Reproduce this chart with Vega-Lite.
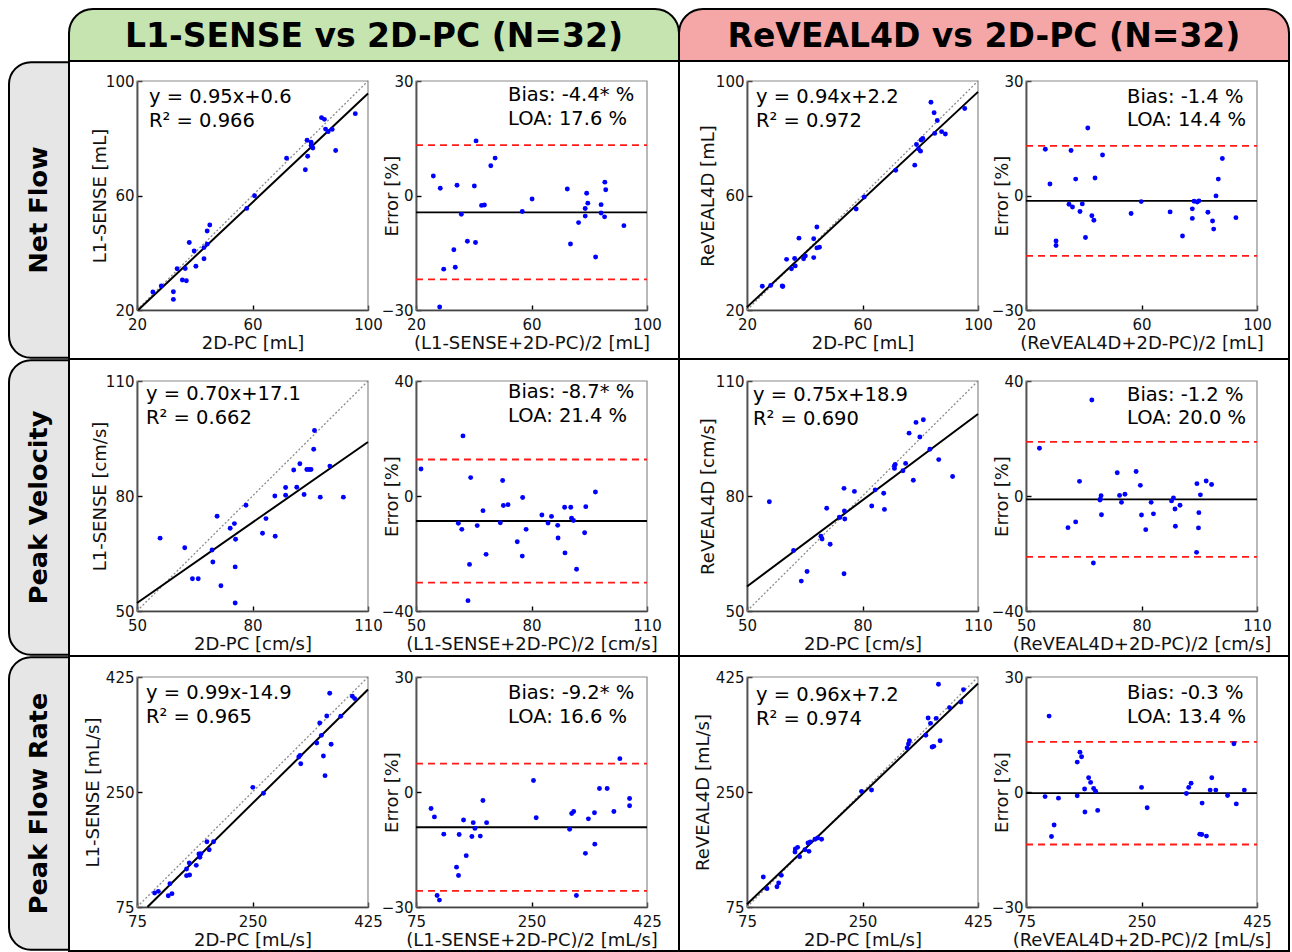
{
"$schema": "https://vega.github.io/schema/vega-lite/v6.json",
"padding": {"left": 8, "top": 8, "right": 3, "bottom": 1},
"background": "white",
"config": {
 "font": "DejaVu Sans",
 "view": {"stroke": null},
 "axis": {"grid": false, "labelFontSize": 15, "labelColor": "#111111", "titleFontSize": 18, "titleFontWeight": "normal", "titleColor": "#111111", "domainColor": "black", "domainWidth": 1.6, "tickColor": "black", "tickWidth": 1.4, "tickSize": -5, "labelPadding": 8, "labelFlush": false, "labelOverlap": false, "zindex": 1, "titlePadding": 2},
 "axisX": {"labelPadding": 12},
 "axisY": {"titleX": -37, "titleBaseline": "middle"}
},
"datasets": {
 "p1": [{"x":25.5,"y":26.3},{"x":28.4,"y":28.4},{"x":32.6,"y":26.4},{"x":32.6,"y":23.7},{"x":33.9,"y":34.4},{"x":35.7,"y":30.5},{"x":37.1,"y":30.2},{"x":36.7,"y":34.5},{"x":38.1,"y":43.6},{"x":39.8,"y":40.6},{"x":40.4,"y":35.3},{"x":43.2,"y":41.8},{"x":43.2,"y":37.9},{"x":44.3,"y":43.0},{"x":44.3,"y":47.6},{"x":45.2,"y":49.7},{"x":58.0,"y":55.5},{"x":60.7,"y":59.9},{"x":71.8,"y":73.0},{"x":78.3,"y":69.0},{"x":79.1,"y":73.7},{"x":78.9,"y":79.3},{"x":80.3,"y":78.6},{"x":80.3,"y":77.5},{"x":80.9,"y":76.6},{"x":83.9,"y":87.2},{"x":84.9,"y":86.6},{"x":85.3,"y":83.2},{"x":86.2,"y":82.3},{"x":87.6,"y":83.1},{"x":88.8,"y":75.7},{"x":95.6,"y":88.6}],
 "p2": [{"x":26.0,"y":5.1},{"x":28.4,"y":1.9},{"x":29.6,"y":-19.3},{"x":28.2,"y":-29.2},{"x":33.1,"y":-14.2},{"x":33.6,"y":-18.8},{"x":34.2,"y":2.7},{"x":35.7,"y":-4.9},{"x":37.8,"y":-12.0},{"x":40.2,"y":2.5},{"x":40.6,"y":-12.3},{"x":40.8,"y":14.3},{"x":42.7,"y":-2.6},{"x":43.7,"y":-2.5},{"x":45.9,"y":7.8},{"x":47.4,"y":9.8},{"x":56.8,"y":-4.2},{"x":60.2,"y":-0.9},{"x":72.4,"y":1.7},{"x":73.5,"y":-12.7},{"x":76.3,"y":-7.1},{"x":78.6,"y":-5.4},{"x":78.6,"y":-3.4},{"x":79.1,"y":0.6},{"x":79.5,"y":-2.0},{"x":82.2,"y":-16.1},{"x":84.1,"y":-2.4},{"x":84.1,"y":-4.6},{"x":85.3,"y":-5.6},{"x":85.4,"y":3.5},{"x":85.7,"y":1.5},{"x":92.0,"y":-7.9}],
 "p3": [{"x":25.3,"y":28.3},{"x":28.2,"y":28.6},{"x":32.2,"y":28.4},{"x":32.4,"y":28.2},{"x":33.7,"y":37.7},{"x":35.4,"y":34.4},{"x":36.7,"y":35.4},{"x":36.5,"y":38.0},{"x":38.0,"y":45.1},{"x":39.6,"y":37.9},{"x":40.2,"y":38.9},{"x":43.1,"y":38.3},{"x":43.1,"y":44.9},{"x":44.2,"y":41.7},{"x":45.1,"y":41.9},{"x":44.2,"y":49.0},{"x":57.8,"y":55.3},{"x":60.6,"y":59.5},{"x":71.5,"y":68.8},{"x":78.1,"y":70.6},{"x":78.7,"y":77.8},{"x":79.4,"y":76.3},{"x":80.1,"y":75.5},{"x":80.3,"y":79.4},{"x":80.9,"y":79.9},{"x":83.7,"y":92.6},{"x":84.8,"y":88.9},{"x":85.9,"y":86.2},{"x":85.0,"y":81.7},{"x":87.4,"y":82.3},{"x":88.7,"y":81.5},{"x":95.4,"y":90.4}],
 "p4": [{"x":26.7,"y":12.1},{"x":28.3,"y":3.0},{"x":30.4,"y":-11.9},{"x":30.4,"y":-13.1},{"x":34.9,"y":-2.3},{"x":35.6,"y":11.8},{"x":36.1,"y":-3.0},{"x":37.2,"y":4.3},{"x":38.7,"y":-4.2},{"x":39.5,"y":-2.2},{"x":40.6,"y":-11.0},{"x":41.4,"y":17.7},{"x":42.8,"y":-5.3},{"x":43.5,"y":-6.5},{"x":43.9,"y":4.6},{"x":46.5,"y":10.6},{"x":56.4,"y":-4.7},{"x":59.9,"y":-1.6},{"x":69.9,"y":-4.3},{"x":74.2,"y":-10.6},{"x":77.6,"y":-3.5},{"x":77.6,"y":-6.0},{"x":78.2,"y":-1.5},{"x":79.3,"y":-1.7},{"x":79.9,"y":-1.4},{"x":83.0,"y":-4.4},{"x":84.6,"y":-6.7},{"x":85.0,"y":-8.8},{"x":85.8,"y":-0.1},{"x":86.6,"y":4.3},{"x":88.0,"y":9.7},{"x":92.7,"y":-5.8}],
 "p5": [{"x":56.0,"y":69.0},{"x":62.4,"y":66.5},{"x":64.4,"y":58.4},{"x":65.9,"y":58.4},{"x":69.5,"y":65.9},{"x":69.7,"y":62.8},{"x":70.8,"y":74.7},{"x":71.8,"y":56.6},{"x":74.2,"y":71.6},{"x":75.3,"y":72.8},{"x":75.6,"y":68.7},{"x":75.5,"y":61.5},{"x":75.5,"y":52.1},{"x":78.3,"y":77.6},{"x":82.6,"y":70.3},{"x":83.5,"y":74.1},{"x":85.8,"y":80.0},{"x":85.9,"y":69.5},{"x":88.6,"y":82.2},{"x":88.6,"y":80.2},{"x":90.7,"y":86.8},{"x":91.5,"y":82.3},{"x":92.3,"y":88.4},{"x":93.4,"y":80.4},{"x":94.1,"y":86.9},{"x":94.7,"y":86.9},{"x":95.2,"y":86.9},{"x":95.9,"y":92.2},{"x":96.1,"y":97.1},{"x":97.6,"y":79.7},{"x":100.1,"y":87.8},{"x":103.6,"y":79.7}],
 "p6": [{"x":51.3,"y":9.4},{"x":61.0,"y":-9.5},{"x":61.9,"y":-11.6},{"x":62.2,"y":20.9},{"x":63.9,"y":-23.8},{"x":64.2,"y":6.4},{"x":63.5,"y":-36.4},{"x":65.9,"y":-10.3},{"x":67.4,"y":-5.1},{"x":68.2,"y":-20.3},{"x":71.9,"y":-9.3},{"x":72.5,"y":5.4},{"x":72.7,"y":-3.3},{"x":73.9,"y":-3.0},{"x":76.3,"y":-15.9},{"x":77.6,"y":-20.9},{"x":77.7,"y":-0.5},{"x":78.6,"y":-11.6},{"x":82.7,"y":-6.6},{"x":84.3,"y":-9.4},{"x":85.2,"y":-7.1},{"x":86.8,"y":-10.2},{"x":86.9,"y":-14.6},{"x":88.6,"y":-3.9},{"x":88.7,"y":-19.8},{"x":90.2,"y":-3.9},{"x":90.4,"y":-7.7},{"x":90.9,"y":-8.5},{"x":91.7,"y":-25.5},{"x":93.8,"y":-12.8},{"x":94.1,"y":-3.7},{"x":96.6,"y":1.4}],
 "p7": [{"x":55.8,"y":78.5},{"x":62.1,"y":65.8},{"x":64.1,"y":57.8},{"x":65.6,"y":60.3},{"x":69.2,"y":69.5},{"x":69.5,"y":68.8},{"x":70.7,"y":76.8},{"x":71.6,"y":67.4},{"x":74.0,"y":74.5},{"x":74.1,"y":74.4},{"x":75.2,"y":82.0},{"x":75.3,"y":76.1},{"x":75.4,"y":74.0},{"x":75.2,"y":59.7},{"x":77.9,"y":81.2},{"x":82.4,"y":77.4},{"x":83.3,"y":81.6},{"x":85.5,"y":80.7},{"x":85.7,"y":76.5},{"x":88.3,"y":87.9},{"x":88.3,"y":87.2},{"x":88.5,"y":88.2},{"x":90.5,"y":86.6},{"x":91.2,"y":88.5},{"x":92.1,"y":96.4},{"x":93.2,"y":84.1},{"x":93.9,"y":99.2},{"x":94.9,"y":95.4},{"x":95.8,"y":99.9},{"x":97.5,"y":92.2},{"x":99.8,"y":89.5},{"x":103.4,"y":85.1}],
 "p8": [{"x":53.5,"y":16.6},{"x":60.9,"y":-11.0},{"x":62.9,"y":-9.0},{"x":63.9,"y":5.1},{"x":67.1,"y":33.4},{"x":67.5,"y":-23.3},{"x":69.2,"y":-1.4},{"x":69.5,"y":0.1},{"x":69.3,"y":-1.1},{"x":69.6,"y":-6.5},{"x":73.7,"y":8.1},{"x":74.3,"y":0.2},{"x":74.8,"y":-2.2},{"x":75.7,"y":0.6},{"x":78.6,"y":8.5},{"x":79.7,"y":3.7},{"x":80.0,"y":-6.6},{"x":81.1,"y":-11.7},{"x":82.5,"y":-2.2},{"x":83.1,"y":-6.2},{"x":87.8,"y":-1.7},{"x":88.3,"y":-0.7},{"x":88.7,"y":-4.5},{"x":88.8,"y":-10.5},{"x":90.0,"y":-3.2},{"x":94.3,"y":-19.6},{"x":94.4,"y":4.3},{"x":94.9,"y":-5.8},{"x":94.8,"y":-11.1},{"x":95.3,"y":0.4},{"x":96.8,"y":5.2},{"x":98.2,"y":4.0}],
 "p9": [{"x":101.7,"y":96.3},{"x":107.3,"y":98.8},{"x":122.4,"y":92.2},{"x":128.0,"y":95.3},{"x":124.9,"y":110.5},{"x":150.1,"y":122.7},{"x":154.7,"y":123.7},{"x":150.1,"y":132.8},{"x":154.2,"y":141.9},{"x":164.8,"y":138.4},{"x":168.8,"y":155.6},{"x":171.8,"y":156.1},{"x":170.3,"y":150.6},{"x":180.9,"y":174.4},{"x":184.4,"y":162.2},{"x":191.0,"y":174.4},{"x":250.5,"y":257.1},{"x":266.6,"y":248.0},{"x":320.1,"y":303.3},{"x":322.1,"y":305.8},{"x":323.1,"y":293.1},{"x":347.3,"y":324.6},{"x":351.8,"y":355.0},{"x":354.4,"y":336.2},{"x":357.4,"y":304.8},{"x":359.9,"y":274.9},{"x":362.5,"y":365.7},{"x":367.0,"y":400.2},{"x":369.1,"y":322.6},{"x":383.7,"y":365.2},{"x":401.3,"y":395.6},{"x":404.9,"y":392.1}],
 "p10": [{"x":97.8,"y":-4.3},{"x":102.9,"y":-6.5},{"x":107.0,"y":-27.0},{"x":110.5,"y":-28.2},{"x":117.1,"y":-11.0},{"x":136.4,"y":-19.6},{"x":139.4,"y":-21.8},{"x":140.4,"y":-11.1},{"x":147.0,"y":-7.3},{"x":151.1,"y":-16.6},{"x":159.7,"y":-11.6},{"x":161.7,"y":-8.0},{"x":164.3,"y":-9.5},{"x":172.4,"y":-11.5},{"x":176.4,"y":-2.2},{"x":182.0,"y":-8.0},{"x":253.0,"y":3.0},{"x":257.1,"y":-6.7},{"x":307.8,"y":-9.7},{"x":310.9,"y":-5.6},{"x":313.9,"y":-5.1},{"x":318.0,"y":-27.0},{"x":331.7,"y":-16.0},{"x":336.2,"y":-7.0},{"x":345.4,"y":-5.4},{"x":345.9,"y":-13.6},{"x":353.0,"y":0.9},{"x":364.6,"y":0.9},{"x":374.8,"y":-5.1},{"x":383.9,"y":8.7},{"x":398.6,"y":-1.7},{"x":398.6,"y":-3.6}],
 "p11": [{"x":99.7,"y":120.6},{"x":105.3,"y":102.9},{"x":120.4,"y":105.9},{"x":123.0,"y":111.5},{"x":127.0,"y":123.2},{"x":147.7,"y":158.7},{"x":148.2,"y":163.2},{"x":151.7,"y":165.8},{"x":154.7,"y":151.6},{"x":162.8,"y":162.2},{"x":167.4,"y":172.4},{"x":168.9,"y":159.7},{"x":170.9,"y":173.9},{"x":178.0,"y":178.0},{"x":182.0,"y":180.0},{"x":188.0,"y":178.0},{"x":248.5,"y":251.0},{"x":263.7,"y":253.0},{"x":317.6,"y":317.0},{"x":319.6,"y":323.1},{"x":321.1,"y":328.1},{"x":345.9,"y":336.3},{"x":349.4,"y":362.6},{"x":353.0,"y":354.5},{"x":355.5,"y":318.5},{"x":358.0,"y":319.5},{"x":361.6,"y":362.1},{"x":365.1,"y":413.9},{"x":367.6,"y":328.1},{"x":381.8,"y":378.4},{"x":399.0,"y":387.0},{"x":403.0,"y":405.8}],
 "p12": [{"x":103.9,"y":-1.2},{"x":110.0,"y":19.8},{"x":113.6,"y":-11.6},{"x":117.6,"y":-8.6},{"x":124.2,"y":-1.6},{"x":152.6,"y":7.8},{"x":152.6,"y":-1.0},{"x":156.7,"y":10.4},{"x":159.2,"y":9.2},{"x":163.8,"y":0.8},{"x":164.3,"y":-5.2},{"x":169.9,"y":3.7},{"x":172.9,"y":2.5},{"x":177.5,"y":0.9},{"x":180.5,"y":0.2},{"x":183.6,"y":-4.8},{"x":250.0,"y":1.2},{"x":258.6,"y":-4.1},{"x":318.0,"y":-0.4},{"x":321.5,"y":1.2},{"x":325.1,"y":2.3},{"x":338.3,"y":-11.0},{"x":341.3,"y":-11.1},{"x":341.8,"y":-2.9},{"x":348.4,"y":-11.5},{"x":354.0,"y":0.5},{"x":356.5,"y":3.7},{"x":362.6,"y":0.5},{"x":380.4,"y":-0.9},{"x":390.0,"y":12.6},{"x":393.6,"y":-3.1},{"x":405.8,"y":0.5}]
},
"columns": 3,
"spacing": 0,
"align": "each",
"bounds": "flush",
"concat": [
 {"width": 60, "height": 52, "data": {"values": [{}]}, "mark": {"type": "text", "text": ""}},
 {"width": 610, "height": 52, "data": {"values": [{"label": "L1-SENSE vs 2D-PC (N=32)"}]},
  "layer": [
   {"mark": {"type": "rect", "fill": "#c5e4b0", "stroke": "black", "strokeWidth": 2, "cornerRadiusTopLeft": 24, "cornerRadiusTopRight": 24},
    "encoding": {"x": {"datum": 0, "type": "quantitative", "scale": {"domain": [0, 1], "nice": false}, "axis": null}, "x2": {"datum": 1}, "y": {"datum": 0, "type": "quantitative", "scale": {"domain": [0, 1], "nice": false}, "axis": null}, "y2": {"datum": 1}}},
   {"mark": {"type": "text", "fontSize": 33, "fontWeight": "bold", "color": "black", "dy": 2},
    "encoding": {"x": {"datum": 0.5, "type": "quantitative", "scale": {"domain": [0, 1], "nice": false}, "axis": null}, "y": {"datum": 0.5, "type": "quantitative", "scale": {"domain": [0, 1], "nice": false}, "axis": null}, "text": {"field": "label"}}}
  ]},
 {"width": 610, "height": 52, "data": {"values": [{"label": "ReVEAL4D vs 2D-PC (N=32)"}]},
  "layer": [
   {"mark": {"type": "rect", "fill": "#f4a7a6", "stroke": "black", "strokeWidth": 2, "cornerRadiusTopLeft": 24, "cornerRadiusTopRight": 24},
    "encoding": {"x": {"datum": 0, "type": "quantitative", "scale": {"domain": [0, 1], "nice": false}, "axis": null}, "x2": {"datum": 1}, "y": {"datum": 0, "type": "quantitative", "scale": {"domain": [0, 1], "nice": false}, "axis": null}, "y2": {"datum": 1}}},
   {"mark": {"type": "text", "fontSize": 33, "fontWeight": "bold", "color": "black", "dy": 2},
    "encoding": {"x": {"datum": 0.5, "type": "quantitative", "scale": {"domain": [0, 1], "nice": false}, "axis": null}, "y": {"datum": 0.5, "type": "quantitative", "scale": {"domain": [0, 1], "nice": false}, "axis": null}, "text": {"field": "label"}}}
  ]},

 {"width": 60, "height": 298, "data": {"values": [{"label": "Net Flow"}]},
  "layer": [
   {"mark": {"type": "rect", "fill": "#e6e6e6", "stroke": "black", "strokeWidth": 2, "cornerRadiusTopLeft": 22, "cornerRadiusBottomLeft": 22},
    "encoding": {"x": {"datum": 0, "type": "quantitative", "scale": {"domain": [0, 1], "nice": false}, "axis": null}, "x2": {"datum": 1}, "y": {"datum": 0.004, "type": "quantitative", "scale": {"domain": [0, 1], "nice": false}, "axis": null}, "y2": {"datum": 0.996}}},
   {"mark": {"type": "text", "fontSize": 25.5, "fontWeight": "bold", "color": "black", "angle": 270},
    "encoding": {"x": {"datum": 0.5, "type": "quantitative", "scale": {"domain": [0, 1], "nice": false}, "axis": null}, "y": {"datum": 0.5, "type": "quantitative", "scale": {"domain": [0, 1], "nice": false}, "axis": null}, "text": {"field": "label"}}}
  ]},
 {"width": 610, "height": 298, "view": {"stroke": "black", "strokeWidth": 2},
  "resolve": {"scale": {"x": "independent", "y": "independent"}},
  "layer": [
   {"layer": [
    {"data": {"values": [{}]}, "mark": {"type": "rect", "fillOpacity": 0, "stroke": "#8a8a8a", "strokeWidth": 1.2},
     "encoding": {"x": {"datum": 20, "type": "quantitative", "scale": {"domain": [20, 100], "range": [68, 299], "nice": false, "zero": false}}, "x2": {"datum": 100}, "y": {"datum": 20, "type": "quantitative", "scale": {"domain": [20, 100], "range": [249, 20], "nice": false, "zero": false}}, "y2": {"datum": 100}}},
    {"data": {"values": [{"x1": 20, "y1": 20, "x2": 100, "y2": 100}]}, "mark": {"type": "rule", "color": "#8c8c8c", "strokeDash": [2, 2], "strokeWidth": 1.3},
     "encoding": {"x": {"field": "x1", "type": "quantitative", "scale": {"domain": [20, 100], "range": [68, 299], "nice": false, "zero": false}}, "y": {"field": "y1", "type": "quantitative", "scale": {"domain": [20, 100], "range": [249, 20], "nice": false, "zero": false}}, "x2": {"field": "x2"}, "y2": {"field": "y2"}}},
    {"data": {"values": [{"x1": 20.42, "y1": 20, "x2": 100, "y2": 95.6}]}, "mark": {"type": "rule", "color": "black", "strokeWidth": 2},
     "encoding": {"x": {"field": "x1", "type": "quantitative", "scale": {"domain": [20, 100], "range": [68, 299], "nice": false, "zero": false}}, "y": {"field": "y1", "type": "quantitative", "scale": {"domain": [20, 100], "range": [249, 20], "nice": false, "zero": false}}, "x2": {"field": "x2"}, "y2": {"field": "y2"}}},
    {"data": {"name": "p1"}, "mark": {"type": "circle", "size": 24, "color": "#0000ff", "opacity": 1},
     "encoding": {"x": {"field": "x", "type": "quantitative", "scale": {"domain": [20, 100], "range": [68, 299], "nice": false, "zero": false}, "axis": {"orient": "bottom", "offset": -49, "values": [20, 60, 100], "title": "2D-PC [mL]"}}, "y": {"field": "y", "type": "quantitative", "scale": {"domain": [20, 100], "range": [249, 20], "nice": false, "zero": false}, "axis": {"orient": "left", "offset": -68, "values": [20, 60, 100], "title": "L1-SENSE [mL]"}}}},
    {"data": {"values": [{}]}, "mark": {"type": "text", "align": "left", "baseline": "top", "fontSize": 19.5, "lineHeight": 23.5, "dx": 12, "dy": 7, "color": "black"},
     "encoding": {"x": {"datum": 20, "type": "quantitative", "scale": {"domain": [20, 100], "range": [68, 299], "nice": false, "zero": false}}, "y": {"datum": 100, "type": "quantitative", "scale": {"domain": [20, 100], "range": [249, 20], "nice": false, "zero": false}}, "text": {"value": ["y = 0.95x+0.6", "R² = 0.966"]}}}
   ]},
   {"layer": [
    {"data": {"values": [{}]}, "mark": {"type": "rect", "fillOpacity": 0, "stroke": "#8a8a8a", "strokeWidth": 1.2},
     "encoding": {"x": {"datum": 20, "type": "quantitative", "scale": {"domain": [20, 100], "range": [347, 578], "nice": false, "zero": false}}, "x2": {"datum": 100}, "y": {"datum": -30, "type": "quantitative", "scale": {"domain": [-30, 30], "range": [249, 20], "nice": false, "zero": false}}, "y2": {"datum": 30}}},
    {"data": {"values": [{"v": 13.2}, {"v": -22.0}]}, "mark": {"type": "rule", "color": "#ff1a1a", "strokeDash": [7, 5], "strokeWidth": 1.8},
     "encoding": {"x": {"datum": 20, "type": "quantitative", "scale": {"domain": [20, 100], "range": [347, 578], "nice": false, "zero": false}}, "x2": {"datum": 100}, "y": {"field": "v", "type": "quantitative", "scale": {"domain": [-30, 30], "range": [249, 20], "nice": false, "zero": false}}}},
    {"data": {"values": [{"v": -4.4}]}, "mark": {"type": "rule", "color": "black", "strokeWidth": 1.8},
     "encoding": {"x": {"datum": 20, "type": "quantitative", "scale": {"domain": [20, 100], "range": [347, 578], "nice": false, "zero": false}}, "x2": {"datum": 100}, "y": {"field": "v", "type": "quantitative", "scale": {"domain": [-30, 30], "range": [249, 20], "nice": false, "zero": false}}}},
    {"data": {"name": "p2"}, "mark": {"type": "circle", "size": 24, "color": "#0000ff", "opacity": 1},
     "encoding": {"x": {"field": "x", "type": "quantitative", "scale": {"domain": [20, 100], "range": [347, 578], "nice": false, "zero": false}, "axis": {"orient": "bottom", "offset": -49, "values": [20, 60, 100], "title": "(L1-SENSE+2D-PC)/2 [mL]"}}, "y": {"field": "y", "type": "quantitative", "scale": {"domain": [-30, 30], "range": [249, 20], "nice": false, "zero": false}, "axis": {"orient": "left", "offset": -347, "values": [-30, 0, 30], "title": "Error [%]", "titleX": -23.5}}}},
    {"data": {"values": [{}]}, "mark": {"type": "text", "align": "left", "baseline": "top", "fontSize": 19.5, "lineHeight": 24, "dx": 92, "dy": 5, "color": "black"},
     "encoding": {"x": {"datum": 20, "type": "quantitative", "scale": {"domain": [20, 100], "range": [347, 578], "nice": false, "zero": false}}, "y": {"datum": 30, "type": "quantitative", "scale": {"domain": [-30, 30], "range": [249, 20], "nice": false, "zero": false}}, "text": {"value": ["Bias: -4.4* %", "LOA: 17.6 %"]}}}
   ]}
  ]},
 {"width": 610, "height": 298, "view": {"stroke": "black", "strokeWidth": 2},
  "resolve": {"scale": {"x": "independent", "y": "independent"}},
  "layer": [
   {"layer": [
    {"data": {"values": [{}]}, "mark": {"type": "rect", "fillOpacity": 0, "stroke": "#8a8a8a", "strokeWidth": 1.2},
     "encoding": {"x": {"datum": 20, "type": "quantitative", "scale": {"domain": [20, 100], "range": [68, 299], "nice": false, "zero": false}}, "x2": {"datum": 100}, "y": {"datum": 20, "type": "quantitative", "scale": {"domain": [20, 100], "range": [249, 20], "nice": false, "zero": false}}, "y2": {"datum": 100}}},
    {"data": {"values": [{"x1": 20, "y1": 20, "x2": 100, "y2": 100}]}, "mark": {"type": "rule", "color": "#8c8c8c", "strokeDash": [2, 2], "strokeWidth": 1.3},
     "encoding": {"x": {"field": "x1", "type": "quantitative", "scale": {"domain": [20, 100], "range": [68, 299], "nice": false, "zero": false}}, "y": {"field": "y1", "type": "quantitative", "scale": {"domain": [20, 100], "range": [249, 20], "nice": false, "zero": false}}, "x2": {"field": "x2"}, "y2": {"field": "y2"}}},
    {"data": {"values": [{"x1": 20, "y1": 21.0, "x2": 100, "y2": 96.2}]}, "mark": {"type": "rule", "color": "black", "strokeWidth": 2},
     "encoding": {"x": {"field": "x1", "type": "quantitative", "scale": {"domain": [20, 100], "range": [68, 299], "nice": false, "zero": false}}, "y": {"field": "y1", "type": "quantitative", "scale": {"domain": [20, 100], "range": [249, 20], "nice": false, "zero": false}}, "x2": {"field": "x2"}, "y2": {"field": "y2"}}},
    {"data": {"name": "p3"}, "mark": {"type": "circle", "size": 24, "color": "#0000ff", "opacity": 1},
     "encoding": {"x": {"field": "x", "type": "quantitative", "scale": {"domain": [20, 100], "range": [68, 299], "nice": false, "zero": false}, "axis": {"orient": "bottom", "offset": -49, "values": [20, 60, 100], "title": "2D-PC [mL]"}}, "y": {"field": "y", "type": "quantitative", "scale": {"domain": [20, 100], "range": [249, 20], "nice": false, "zero": false}, "axis": {"orient": "left", "offset": -68, "values": [20, 60, 100], "title": "ReVEAL4D [mL]", "titleX": -39}}}},
    {"data": {"values": [{}]}, "mark": {"type": "text", "align": "left", "baseline": "top", "fontSize": 19.5, "lineHeight": 23.5, "dx": 9, "dy": 7, "color": "black"},
     "encoding": {"x": {"datum": 20, "type": "quantitative", "scale": {"domain": [20, 100], "range": [68, 299], "nice": false, "zero": false}}, "y": {"datum": 100, "type": "quantitative", "scale": {"domain": [20, 100], "range": [249, 20], "nice": false, "zero": false}}, "text": {"value": ["y = 0.94x+2.2", "R² = 0.972"]}}}
   ]},
   {"layer": [
    {"data": {"values": [{}]}, "mark": {"type": "rect", "fillOpacity": 0, "stroke": "#8a8a8a", "strokeWidth": 1.2},
     "encoding": {"x": {"datum": 20, "type": "quantitative", "scale": {"domain": [20, 100], "range": [347, 578], "nice": false, "zero": false}}, "x2": {"datum": 100}, "y": {"datum": -30, "type": "quantitative", "scale": {"domain": [-30, 30], "range": [249, 20], "nice": false, "zero": false}}, "y2": {"datum": 30}}},
    {"data": {"values": [{"v": 13.0}, {"v": -15.8}]}, "mark": {"type": "rule", "color": "#ff1a1a", "strokeDash": [7, 5], "strokeWidth": 1.8},
     "encoding": {"x": {"datum": 20, "type": "quantitative", "scale": {"domain": [20, 100], "range": [347, 578], "nice": false, "zero": false}}, "x2": {"datum": 100}, "y": {"field": "v", "type": "quantitative", "scale": {"domain": [-30, 30], "range": [249, 20], "nice": false, "zero": false}}}},
    {"data": {"values": [{"v": -1.4}]}, "mark": {"type": "rule", "color": "black", "strokeWidth": 1.8},
     "encoding": {"x": {"datum": 20, "type": "quantitative", "scale": {"domain": [20, 100], "range": [347, 578], "nice": false, "zero": false}}, "x2": {"datum": 100}, "y": {"field": "v", "type": "quantitative", "scale": {"domain": [-30, 30], "range": [249, 20], "nice": false, "zero": false}}}},
    {"data": {"name": "p4"}, "mark": {"type": "circle", "size": 24, "color": "#0000ff", "opacity": 1},
     "encoding": {"x": {"field": "x", "type": "quantitative", "scale": {"domain": [20, 100], "range": [347, 578], "nice": false, "zero": false}, "axis": {"orient": "bottom", "offset": -49, "values": [20, 60, 100], "title": "(ReVEAL4D+2D-PC)/2 [mL]"}}, "y": {"field": "y", "type": "quantitative", "scale": {"domain": [-30, 30], "range": [249, 20], "nice": false, "zero": false}, "axis": {"orient": "left", "offset": -347, "values": [-30, 0, 30], "title": "Error [%]", "titleX": -23.5}}}},
    {"data": {"values": [{}]}, "mark": {"type": "text", "align": "left", "baseline": "top", "fontSize": 19.5, "lineHeight": 23, "dx": 101, "dy": 7, "color": "black"},
     "encoding": {"x": {"datum": 20, "type": "quantitative", "scale": {"domain": [20, 100], "range": [347, 578], "nice": false, "zero": false}}, "y": {"datum": 30, "type": "quantitative", "scale": {"domain": [-30, 30], "range": [249, 20], "nice": false, "zero": false}}, "text": {"value": ["Bias: -1.4 %", "LOA: 14.4 %"]}}}
   ]}
  ]},

 {"width": 60, "height": 297, "data": {"values": [{"label": "Peak Velocity"}]},
  "layer": [
   {"mark": {"type": "rect", "fill": "#e6e6e6", "stroke": "black", "strokeWidth": 2, "cornerRadiusTopLeft": 22, "cornerRadiusBottomLeft": 22},
    "encoding": {"x": {"datum": 0, "type": "quantitative", "scale": {"domain": [0, 1], "nice": false}, "axis": null}, "x2": {"datum": 1}, "y": {"datum": 0.004, "type": "quantitative", "scale": {"domain": [0, 1], "nice": false}, "axis": null}, "y2": {"datum": 0.996}}},
   {"mark": {"type": "text", "fontSize": 25.5, "fontWeight": "bold", "color": "black", "angle": 270},
    "encoding": {"x": {"datum": 0.5, "type": "quantitative", "scale": {"domain": [0, 1], "nice": false}, "axis": null}, "y": {"datum": 0.5, "type": "quantitative", "scale": {"domain": [0, 1], "nice": false}, "axis": null}, "text": {"field": "label"}}}
  ]},
 {"width": 610, "height": 297, "view": {"stroke": "black", "strokeWidth": 2},
  "resolve": {"scale": {"x": "independent", "y": "independent"}},
  "layer": [
   {"layer": [
    {"data": {"values": [{}]}, "mark": {"type": "rect", "fillOpacity": 0, "stroke": "#8a8a8a", "strokeWidth": 1.2},
     "encoding": {"x": {"datum": 50, "type": "quantitative", "scale": {"domain": [50, 110], "range": [68, 299], "nice": false, "zero": false}}, "x2": {"datum": 110}, "y": {"datum": 50, "type": "quantitative", "scale": {"domain": [50, 110], "range": [252, 22], "nice": false, "zero": false}}, "y2": {"datum": 110}}},
    {"data": {"values": [{"x1": 50, "y1": 50, "x2": 110, "y2": 110}]}, "mark": {"type": "rule", "color": "#8c8c8c", "strokeDash": [2, 2], "strokeWidth": 1.3},
     "encoding": {"x": {"field": "x1", "type": "quantitative", "scale": {"domain": [50, 110], "range": [68, 299], "nice": false, "zero": false}}, "y": {"field": "y1", "type": "quantitative", "scale": {"domain": [50, 110], "range": [252, 22], "nice": false, "zero": false}}, "x2": {"field": "x2"}, "y2": {"field": "y2"}}},
    {"data": {"values": [{"x1": 50, "y1": 52.1, "x2": 110, "y2": 94.1}]}, "mark": {"type": "rule", "color": "black", "strokeWidth": 2},
     "encoding": {"x": {"field": "x1", "type": "quantitative", "scale": {"domain": [50, 110], "range": [68, 299], "nice": false, "zero": false}}, "y": {"field": "y1", "type": "quantitative", "scale": {"domain": [50, 110], "range": [252, 22], "nice": false, "zero": false}}, "x2": {"field": "x2"}, "y2": {"field": "y2"}}},
    {"data": {"name": "p5"}, "mark": {"type": "circle", "size": 24, "color": "#0000ff", "opacity": 1},
     "encoding": {"x": {"field": "x", "type": "quantitative", "scale": {"domain": [50, 110], "range": [68, 299], "nice": false, "zero": false}, "axis": {"orient": "bottom", "offset": -45, "values": [50, 80, 110], "title": "2D-PC [cm/s]"}}, "y": {"field": "y", "type": "quantitative", "scale": {"domain": [50, 110], "range": [252, 22], "nice": false, "zero": false}, "axis": {"orient": "left", "offset": -68, "values": [50, 80, 110], "title": "L1-SENSE [cm/s]"}}}},
    {"data": {"values": [{}]}, "mark": {"type": "text", "align": "left", "baseline": "top", "fontSize": 19.5, "lineHeight": 23.5, "dx": 9, "dy": 4, "color": "black"},
     "encoding": {"x": {"datum": 50, "type": "quantitative", "scale": {"domain": [50, 110], "range": [68, 299], "nice": false, "zero": false}}, "y": {"datum": 110, "type": "quantitative", "scale": {"domain": [50, 110], "range": [252, 22], "nice": false, "zero": false}}, "text": {"value": ["y = 0.70x+17.1", "R² = 0.662"]}}}
   ]},
   {"layer": [
    {"data": {"values": [{}]}, "mark": {"type": "rect", "fillOpacity": 0, "stroke": "#8a8a8a", "strokeWidth": 1.2},
     "encoding": {"x": {"datum": 50, "type": "quantitative", "scale": {"domain": [50, 110], "range": [347, 578], "nice": false, "zero": false}}, "x2": {"datum": 110}, "y": {"datum": -40, "type": "quantitative", "scale": {"domain": [-40, 40], "range": [252, 22], "nice": false, "zero": false}}, "y2": {"datum": 40}}},
    {"data": {"values": [{"v": 12.7}, {"v": -30.1}]}, "mark": {"type": "rule", "color": "#ff1a1a", "strokeDash": [7, 5], "strokeWidth": 1.8},
     "encoding": {"x": {"datum": 50, "type": "quantitative", "scale": {"domain": [50, 110], "range": [347, 578], "nice": false, "zero": false}}, "x2": {"datum": 110}, "y": {"field": "v", "type": "quantitative", "scale": {"domain": [-40, 40], "range": [252, 22], "nice": false, "zero": false}}}},
    {"data": {"values": [{"v": -8.7}]}, "mark": {"type": "rule", "color": "black", "strokeWidth": 1.8},
     "encoding": {"x": {"datum": 50, "type": "quantitative", "scale": {"domain": [50, 110], "range": [347, 578], "nice": false, "zero": false}}, "x2": {"datum": 110}, "y": {"field": "v", "type": "quantitative", "scale": {"domain": [-40, 40], "range": [252, 22], "nice": false, "zero": false}}}},
    {"data": {"name": "p6"}, "mark": {"type": "circle", "size": 24, "color": "#0000ff", "opacity": 1},
     "encoding": {"x": {"field": "x", "type": "quantitative", "scale": {"domain": [50, 110], "range": [347, 578], "nice": false, "zero": false}, "axis": {"orient": "bottom", "offset": -45, "values": [50, 80, 110], "title": "(L1-SENSE+2D-PC)/2 [cm/s]"}}, "y": {"field": "y", "type": "quantitative", "scale": {"domain": [-40, 40], "range": [252, 22], "nice": false, "zero": false}, "axis": {"orient": "left", "offset": -347, "values": [-40, 0, 40], "title": "Error [%]", "titleX": -23.5}}}},
    {"data": {"values": [{}]}, "mark": {"type": "text", "align": "left", "baseline": "top", "fontSize": 19.5, "lineHeight": 24, "dx": 92, "dy": 2, "color": "black"},
     "encoding": {"x": {"datum": 50, "type": "quantitative", "scale": {"domain": [50, 110], "range": [347, 578], "nice": false, "zero": false}}, "y": {"datum": 40, "type": "quantitative", "scale": {"domain": [-40, 40], "range": [252, 22], "nice": false, "zero": false}}, "text": {"value": ["Bias: -8.7* %", "LOA: 21.4 %"]}}}
   ]}
  ]},
 {"width": 610, "height": 297, "view": {"stroke": "black", "strokeWidth": 2},
  "resolve": {"scale": {"x": "independent", "y": "independent"}},
  "layer": [
   {"layer": [
    {"data": {"values": [{}]}, "mark": {"type": "rect", "fillOpacity": 0, "stroke": "#8a8a8a", "strokeWidth": 1.2},
     "encoding": {"x": {"datum": 50, "type": "quantitative", "scale": {"domain": [50, 110], "range": [68, 299], "nice": false, "zero": false}}, "x2": {"datum": 110}, "y": {"datum": 50, "type": "quantitative", "scale": {"domain": [50, 110], "range": [252, 22], "nice": false, "zero": false}}, "y2": {"datum": 110}}},
    {"data": {"values": [{"x1": 50, "y1": 50, "x2": 110, "y2": 110}]}, "mark": {"type": "rule", "color": "#8c8c8c", "strokeDash": [2, 2], "strokeWidth": 1.3},
     "encoding": {"x": {"field": "x1", "type": "quantitative", "scale": {"domain": [50, 110], "range": [68, 299], "nice": false, "zero": false}}, "y": {"field": "y1", "type": "quantitative", "scale": {"domain": [50, 110], "range": [252, 22], "nice": false, "zero": false}}, "x2": {"field": "x2"}, "y2": {"field": "y2"}}},
    {"data": {"values": [{"x1": 50, "y1": 56.4, "x2": 110, "y2": 101.4}]}, "mark": {"type": "rule", "color": "black", "strokeWidth": 2},
     "encoding": {"x": {"field": "x1", "type": "quantitative", "scale": {"domain": [50, 110], "range": [68, 299], "nice": false, "zero": false}}, "y": {"field": "y1", "type": "quantitative", "scale": {"domain": [50, 110], "range": [252, 22], "nice": false, "zero": false}}, "x2": {"field": "x2"}, "y2": {"field": "y2"}}},
    {"data": {"name": "p7"}, "mark": {"type": "circle", "size": 24, "color": "#0000ff", "opacity": 1},
     "encoding": {"x": {"field": "x", "type": "quantitative", "scale": {"domain": [50, 110], "range": [68, 299], "nice": false, "zero": false}, "axis": {"orient": "bottom", "offset": -45, "values": [50, 80, 110], "title": "2D-PC [cm/s]"}}, "y": {"field": "y", "type": "quantitative", "scale": {"domain": [50, 110], "range": [252, 22], "nice": false, "zero": false}, "axis": {"orient": "left", "offset": -68, "values": [50, 80, 110], "title": "ReVEAL4D [cm/s]", "titleX": -39}}}},
    {"data": {"values": [{}]}, "mark": {"type": "text", "align": "left", "baseline": "top", "fontSize": 19.5, "lineHeight": 23.5, "dx": 6, "dy": 5, "color": "black"},
     "encoding": {"x": {"datum": 50, "type": "quantitative", "scale": {"domain": [50, 110], "range": [68, 299], "nice": false, "zero": false}}, "y": {"datum": 110, "type": "quantitative", "scale": {"domain": [50, 110], "range": [252, 22], "nice": false, "zero": false}}, "text": {"value": ["y = 0.75x+18.9", "R² = 0.690"]}}}
   ]},
   {"layer": [
    {"data": {"values": [{}]}, "mark": {"type": "rect", "fillOpacity": 0, "stroke": "#8a8a8a", "strokeWidth": 1.2},
     "encoding": {"x": {"datum": 50, "type": "quantitative", "scale": {"domain": [50, 110], "range": [347, 578], "nice": false, "zero": false}}, "x2": {"datum": 110}, "y": {"datum": -40, "type": "quantitative", "scale": {"domain": [-40, 40], "range": [252, 22], "nice": false, "zero": false}}, "y2": {"datum": 40}}},
    {"data": {"values": [{"v": 18.8}, {"v": -21.2}]}, "mark": {"type": "rule", "color": "#ff1a1a", "strokeDash": [7, 5], "strokeWidth": 1.8},
     "encoding": {"x": {"datum": 50, "type": "quantitative", "scale": {"domain": [50, 110], "range": [347, 578], "nice": false, "zero": false}}, "x2": {"datum": 110}, "y": {"field": "v", "type": "quantitative", "scale": {"domain": [-40, 40], "range": [252, 22], "nice": false, "zero": false}}}},
    {"data": {"values": [{"v": -1.2}]}, "mark": {"type": "rule", "color": "black", "strokeWidth": 1.8},
     "encoding": {"x": {"datum": 50, "type": "quantitative", "scale": {"domain": [50, 110], "range": [347, 578], "nice": false, "zero": false}}, "x2": {"datum": 110}, "y": {"field": "v", "type": "quantitative", "scale": {"domain": [-40, 40], "range": [252, 22], "nice": false, "zero": false}}}},
    {"data": {"name": "p8"}, "mark": {"type": "circle", "size": 24, "color": "#0000ff", "opacity": 1},
     "encoding": {"x": {"field": "x", "type": "quantitative", "scale": {"domain": [50, 110], "range": [347, 578], "nice": false, "zero": false}, "axis": {"orient": "bottom", "offset": -45, "values": [50, 80, 110], "title": "(ReVEAL4D+2D-PC)/2 [cm/s]"}}, "y": {"field": "y", "type": "quantitative", "scale": {"domain": [-40, 40], "range": [252, 22], "nice": false, "zero": false}, "axis": {"orient": "left", "offset": -347, "values": [-40, 0, 40], "title": "Error [%]", "titleX": -23.5}}}},
    {"data": {"values": [{}]}, "mark": {"type": "text", "align": "left", "baseline": "top", "fontSize": 19.5, "lineHeight": 23, "dx": 101, "dy": 5, "color": "black"},
     "encoding": {"x": {"datum": 50, "type": "quantitative", "scale": {"domain": [50, 110], "range": [347, 578], "nice": false, "zero": false}}, "y": {"datum": 40, "type": "quantitative", "scale": {"domain": [-40, 40], "range": [252, 22], "nice": false, "zero": false}}, "text": {"value": ["Bias: -1.2 %", "LOA: 20.0 %"]}}}
   ]}
  ]},

 {"width": 60, "height": 295, "data": {"values": [{"label": "Peak Flow Rate"}]},
  "layer": [
   {"mark": {"type": "rect", "fill": "#e6e6e6", "stroke": "black", "strokeWidth": 2, "cornerRadiusTopLeft": 22, "cornerRadiusBottomLeft": 22},
    "encoding": {"x": {"datum": 0, "type": "quantitative", "scale": {"domain": [0, 1], "nice": false}, "axis": null}, "x2": {"datum": 1}, "y": {"datum": 0.004, "type": "quantitative", "scale": {"domain": [0, 1], "nice": false}, "axis": null}, "y2": {"datum": 0.996}}},
   {"mark": {"type": "text", "fontSize": 25.5, "fontWeight": "bold", "color": "black", "angle": 270},
    "encoding": {"x": {"datum": 0.5, "type": "quantitative", "scale": {"domain": [0, 1], "nice": false}, "axis": null}, "y": {"datum": 0.5, "type": "quantitative", "scale": {"domain": [0, 1], "nice": false}, "axis": null}, "text": {"field": "label"}}}
  ]},
 {"width": 610, "height": 295, "view": {"stroke": "black", "strokeWidth": 2},
  "resolve": {"scale": {"x": "independent", "y": "independent"}},
  "layer": [
   {"layer": [
    {"data": {"values": [{}]}, "mark": {"type": "rect", "fillOpacity": 0, "stroke": "#8a8a8a", "strokeWidth": 1.2},
     "encoding": {"x": {"datum": 75, "type": "quantitative", "scale": {"domain": [75, 425], "range": [68, 299], "nice": false, "zero": false}}, "x2": {"datum": 425}, "y": {"datum": 75, "type": "quantitative", "scale": {"domain": [75, 425], "range": [251, 21], "nice": false, "zero": false}}, "y2": {"datum": 425}}},
    {"data": {"values": [{"x1": 75, "y1": 75, "x2": 425, "y2": 425}]}, "mark": {"type": "rule", "color": "#8c8c8c", "strokeDash": [2, 2], "strokeWidth": 1.3},
     "encoding": {"x": {"field": "x1", "type": "quantitative", "scale": {"domain": [75, 425], "range": [68, 299], "nice": false, "zero": false}}, "y": {"field": "y1", "type": "quantitative", "scale": {"domain": [75, 425], "range": [251, 21], "nice": false, "zero": false}}, "x2": {"field": "x2"}, "y2": {"field": "y2"}}},
    {"data": {"values": [{"x1": 90.8, "y1": 75, "x2": 425, "y2": 405.9}]}, "mark": {"type": "rule", "color": "black", "strokeWidth": 2},
     "encoding": {"x": {"field": "x1", "type": "quantitative", "scale": {"domain": [75, 425], "range": [68, 299], "nice": false, "zero": false}}, "y": {"field": "y1", "type": "quantitative", "scale": {"domain": [75, 425], "range": [251, 21], "nice": false, "zero": false}}, "x2": {"field": "x2"}, "y2": {"field": "y2"}}},
    {"data": {"name": "p9"}, "mark": {"type": "circle", "size": 24, "color": "#0000ff", "opacity": 1},
     "encoding": {"x": {"field": "x", "type": "quantitative", "scale": {"domain": [75, 425], "range": [68, 299], "nice": false, "zero": false}, "axis": {"orient": "bottom", "offset": -44, "values": [75, 250, 425], "title": "2D-PC [mL/s]"}}, "y": {"field": "y", "type": "quantitative", "scale": {"domain": [75, 425], "range": [251, 21], "nice": false, "zero": false}, "axis": {"orient": "left", "offset": -68, "values": [75, 250, 425], "title": "L1-SENSE [mL/s]", "titleX": -44}}}},
    {"data": {"values": [{}]}, "mark": {"type": "text", "align": "left", "baseline": "top", "fontSize": 19.5, "lineHeight": 23.5, "dx": 9, "dy": 7, "color": "black"},
     "encoding": {"x": {"datum": 75, "type": "quantitative", "scale": {"domain": [75, 425], "range": [68, 299], "nice": false, "zero": false}}, "y": {"datum": 425, "type": "quantitative", "scale": {"domain": [75, 425], "range": [251, 21], "nice": false, "zero": false}}, "text": {"value": ["y = 0.99x-14.9", "R² = 0.965"]}}}
   ]},
   {"layer": [
    {"data": {"values": [{}]}, "mark": {"type": "rect", "fillOpacity": 0, "stroke": "#8a8a8a", "strokeWidth": 1.2},
     "encoding": {"x": {"datum": 75, "type": "quantitative", "scale": {"domain": [75, 425], "range": [347, 578], "nice": false, "zero": false}}, "x2": {"datum": 425}, "y": {"datum": -30, "type": "quantitative", "scale": {"domain": [-30, 30], "range": [251, 21], "nice": false, "zero": false}}, "y2": {"datum": 30}}},
    {"data": {"values": [{"v": 7.4}, {"v": -25.8}]}, "mark": {"type": "rule", "color": "#ff1a1a", "strokeDash": [7, 5], "strokeWidth": 1.8},
     "encoding": {"x": {"datum": 75, "type": "quantitative", "scale": {"domain": [75, 425], "range": [347, 578], "nice": false, "zero": false}}, "x2": {"datum": 425}, "y": {"field": "v", "type": "quantitative", "scale": {"domain": [-30, 30], "range": [251, 21], "nice": false, "zero": false}}}},
    {"data": {"values": [{"v": -9.2}]}, "mark": {"type": "rule", "color": "black", "strokeWidth": 1.8},
     "encoding": {"x": {"datum": 75, "type": "quantitative", "scale": {"domain": [75, 425], "range": [347, 578], "nice": false, "zero": false}}, "x2": {"datum": 425}, "y": {"field": "v", "type": "quantitative", "scale": {"domain": [-30, 30], "range": [251, 21], "nice": false, "zero": false}}}},
    {"data": {"name": "p10"}, "mark": {"type": "circle", "size": 24, "color": "#0000ff", "opacity": 1},
     "encoding": {"x": {"field": "x", "type": "quantitative", "scale": {"domain": [75, 425], "range": [347, 578], "nice": false, "zero": false}, "axis": {"orient": "bottom", "offset": -44, "values": [75, 250, 425], "title": "(L1-SENSE+2D-PC)/2 [mL/s]"}}, "y": {"field": "y", "type": "quantitative", "scale": {"domain": [-30, 30], "range": [251, 21], "nice": false, "zero": false}, "axis": {"orient": "left", "offset": -347, "values": [-30, 0, 30], "title": "Error [%]", "titleX": -23.5}}}},
    {"data": {"values": [{}]}, "mark": {"type": "text", "align": "left", "baseline": "top", "fontSize": 19.5, "lineHeight": 23.5, "dx": 92, "dy": 7, "color": "black"},
     "encoding": {"x": {"datum": 75, "type": "quantitative", "scale": {"domain": [75, 425], "range": [347, 578], "nice": false, "zero": false}}, "y": {"datum": 30, "type": "quantitative", "scale": {"domain": [-30, 30], "range": [251, 21], "nice": false, "zero": false}}, "text": {"value": ["Bias: -9.2* %", "LOA: 16.6 %"]}}}
   ]}
  ]},
 {"width": 610, "height": 295, "view": {"stroke": "black", "strokeWidth": 2},
  "resolve": {"scale": {"x": "independent", "y": "independent"}},
  "layer": [
   {"layer": [
    {"data": {"values": [{}]}, "mark": {"type": "rect", "fillOpacity": 0, "stroke": "#8a8a8a", "strokeWidth": 1.2},
     "encoding": {"x": {"datum": 75, "type": "quantitative", "scale": {"domain": [75, 425], "range": [68, 299], "nice": false, "zero": false}}, "x2": {"datum": 425}, "y": {"datum": 75, "type": "quantitative", "scale": {"domain": [75, 425], "range": [251, 21], "nice": false, "zero": false}}, "y2": {"datum": 425}}},
    {"data": {"values": [{"x1": 75, "y1": 75, "x2": 425, "y2": 425}]}, "mark": {"type": "rule", "color": "#8c8c8c", "strokeDash": [2, 2], "strokeWidth": 1.3},
     "encoding": {"x": {"field": "x1", "type": "quantitative", "scale": {"domain": [75, 425], "range": [68, 299], "nice": false, "zero": false}}, "y": {"field": "y1", "type": "quantitative", "scale": {"domain": [75, 425], "range": [251, 21], "nice": false, "zero": false}}, "x2": {"field": "x2"}, "y2": {"field": "y2"}}},
    {"data": {"values": [{"x1": 75, "y1": 79.2, "x2": 425, "y2": 415.2}]}, "mark": {"type": "rule", "color": "black", "strokeWidth": 2},
     "encoding": {"x": {"field": "x1", "type": "quantitative", "scale": {"domain": [75, 425], "range": [68, 299], "nice": false, "zero": false}}, "y": {"field": "y1", "type": "quantitative", "scale": {"domain": [75, 425], "range": [251, 21], "nice": false, "zero": false}}, "x2": {"field": "x2"}, "y2": {"field": "y2"}}},
    {"data": {"name": "p11"}, "mark": {"type": "circle", "size": 24, "color": "#0000ff", "opacity": 1},
     "encoding": {"x": {"field": "x", "type": "quantitative", "scale": {"domain": [75, 425], "range": [68, 299], "nice": false, "zero": false}, "axis": {"orient": "bottom", "offset": -44, "values": [75, 250, 425], "title": "2D-PC [mL/s]"}}, "y": {"field": "y", "type": "quantitative", "scale": {"domain": [75, 425], "range": [251, 21], "nice": false, "zero": false}, "axis": {"orient": "left", "offset": -68, "values": [75, 250, 425], "title": "ReVEAL4D [mL/s]", "titleX": -44}}}},
    {"data": {"values": [{}]}, "mark": {"type": "text", "align": "left", "baseline": "top", "fontSize": 19.5, "lineHeight": 23.5, "dx": 9, "dy": 9, "color": "black"},
     "encoding": {"x": {"datum": 75, "type": "quantitative", "scale": {"domain": [75, 425], "range": [68, 299], "nice": false, "zero": false}}, "y": {"datum": 425, "type": "quantitative", "scale": {"domain": [75, 425], "range": [251, 21], "nice": false, "zero": false}}, "text": {"value": ["y = 0.96x+7.2", "R² = 0.974"]}}}
   ]},
   {"layer": [
    {"data": {"values": [{}]}, "mark": {"type": "rect", "fillOpacity": 0, "stroke": "#8a8a8a", "strokeWidth": 1.2},
     "encoding": {"x": {"datum": 75, "type": "quantitative", "scale": {"domain": [75, 425], "range": [347, 578], "nice": false, "zero": false}}, "x2": {"datum": 425}, "y": {"datum": -30, "type": "quantitative", "scale": {"domain": [-30, 30], "range": [251, 21], "nice": false, "zero": false}}, "y2": {"datum": 30}}},
    {"data": {"values": [{"v": 13.1}, {"v": -13.7}]}, "mark": {"type": "rule", "color": "#ff1a1a", "strokeDash": [7, 5], "strokeWidth": 1.8},
     "encoding": {"x": {"datum": 75, "type": "quantitative", "scale": {"domain": [75, 425], "range": [347, 578], "nice": false, "zero": false}}, "x2": {"datum": 425}, "y": {"field": "v", "type": "quantitative", "scale": {"domain": [-30, 30], "range": [251, 21], "nice": false, "zero": false}}}},
    {"data": {"values": [{"v": -0.3}]}, "mark": {"type": "rule", "color": "black", "strokeWidth": 1.8},
     "encoding": {"x": {"datum": 75, "type": "quantitative", "scale": {"domain": [75, 425], "range": [347, 578], "nice": false, "zero": false}}, "x2": {"datum": 425}, "y": {"field": "v", "type": "quantitative", "scale": {"domain": [-30, 30], "range": [251, 21], "nice": false, "zero": false}}}},
    {"data": {"name": "p12"}, "mark": {"type": "circle", "size": 24, "color": "#0000ff", "opacity": 1},
     "encoding": {"x": {"field": "x", "type": "quantitative", "scale": {"domain": [75, 425], "range": [347, 578], "nice": false, "zero": false}, "axis": {"orient": "bottom", "offset": -44, "values": [75, 250, 425], "title": "(ReVEAL4D+2D-PC)/2 [mL/s]"}}, "y": {"field": "y", "type": "quantitative", "scale": {"domain": [-30, 30], "range": [251, 21], "nice": false, "zero": false}, "axis": {"orient": "left", "offset": -347, "values": [-30, 0, 30], "title": "Error [%]", "titleX": -23.5}}}},
    {"data": {"values": [{}]}, "mark": {"type": "text", "align": "left", "baseline": "top", "fontSize": 19.5, "lineHeight": 23.5, "dx": 101, "dy": 7, "color": "black"},
     "encoding": {"x": {"datum": 75, "type": "quantitative", "scale": {"domain": [75, 425], "range": [347, 578], "nice": false, "zero": false}}, "y": {"datum": 30, "type": "quantitative", "scale": {"domain": [-30, 30], "range": [251, 21], "nice": false, "zero": false}}, "text": {"value": ["Bias: -0.3 %", "LOA: 13.4 %"]}}}
   ]}
  ]}
]
}
